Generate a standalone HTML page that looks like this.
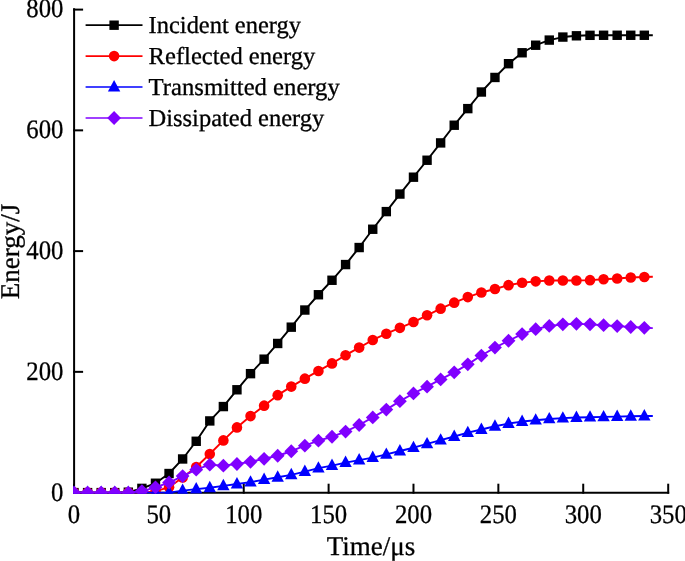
<!DOCTYPE html>
<html><head><meta charset="utf-8"><style>
html,body{margin:0;padding:0;background:#fff;}
body{width:685px;height:561px;overflow:hidden;}
svg{display:block;will-change:transform;text-rendering:geometricPrecision;font-family:"Liberation Serif",serif;}
text{stroke:#000;stroke-width:0.3px;}
</style></head><body>
<svg width="685" height="561" viewBox="0 0 685 561">
<defs><clipPath id="c"><rect x="73.1" y="0" width="612" height="493.7"/></clipPath></defs>
<line x1="74.1" y1="8.3" x2="74.1" y2="493.7" stroke="#000" stroke-width="2"/><line x1="73.1" y1="492.7" x2="669.2" y2="492.7" stroke="#000" stroke-width="2"/><line x1="73.1" y1="492.60" x2="83.1" y2="492.60" stroke="#000" stroke-width="2"/><line x1="73.1" y1="371.85" x2="83.1" y2="371.85" stroke="#000" stroke-width="2"/><line x1="73.1" y1="251.10" x2="83.1" y2="251.10" stroke="#000" stroke-width="2"/><line x1="73.1" y1="130.35" x2="83.1" y2="130.35" stroke="#000" stroke-width="2"/><line x1="73.1" y1="9.60" x2="83.1" y2="9.60" stroke="#000" stroke-width="2"/><line x1="74.00" y1="493.7" x2="74.00" y2="483.7" stroke="#000" stroke-width="2"/><line x1="158.87" y1="493.7" x2="158.87" y2="483.7" stroke="#000" stroke-width="2"/><line x1="243.74" y1="493.7" x2="243.74" y2="483.7" stroke="#000" stroke-width="2"/><line x1="328.61" y1="493.7" x2="328.61" y2="483.7" stroke="#000" stroke-width="2"/><line x1="413.48" y1="493.7" x2="413.48" y2="483.7" stroke="#000" stroke-width="2"/><line x1="498.35" y1="493.7" x2="498.35" y2="483.7" stroke="#000" stroke-width="2"/><line x1="583.22" y1="493.7" x2="583.22" y2="483.7" stroke="#000" stroke-width="2"/><line x1="668.20" y1="493.7" x2="668.20" y2="483.7" stroke="#000" stroke-width="2"/>
<g clip-path="url(#c)"><polyline points="74.00,492.60 87.58,492.60 101.16,492.60 114.74,492.60 128.32,492.18 141.90,488.37 155.48,483.24 169.05,473.52 182.63,458.97 196.21,441.28 209.79,420.93 223.37,406.57 236.95,389.78 250.53,373.66 264.11,359.17 277.69,343.47 291.27,327.17 304.85,310.03 318.43,294.75 332.00,280.26 345.58,264.56 359.16,247.54 372.74,229.24 386.32,211.61 399.90,194.05 413.48,177.20 427.06,160.24 440.64,142.91 454.22,125.22 467.80,108.62 481.38,92.01 494.96,77.46 508.53,63.70 522.11,52.77 535.69,45.22 549.27,40.09 562.85,37.07 576.43,35.80 590.01,35.32 603.59,35.26 617.17,35.26 630.75,35.26 644.33,35.26 652.81,35.26" fill="none" stroke="#000" stroke-width="1.9" stroke-linejoin="round"/><g fill="#000"><rect x="69.30" y="487.90" width="9.40" height="9.40"/><rect x="82.88" y="487.90" width="9.40" height="9.40"/><rect x="96.46" y="487.90" width="9.40" height="9.40"/><rect x="110.04" y="487.90" width="9.40" height="9.40"/><rect x="123.62" y="487.48" width="9.40" height="9.40"/><rect x="137.20" y="483.67" width="9.40" height="9.40"/><rect x="150.78" y="478.54" width="9.40" height="9.40"/><rect x="164.35" y="468.82" width="9.40" height="9.40"/><rect x="177.93" y="454.27" width="9.40" height="9.40"/><rect x="191.51" y="436.58" width="9.40" height="9.40"/><rect x="205.09" y="416.23" width="9.40" height="9.40"/><rect x="218.67" y="401.87" width="9.40" height="9.40"/><rect x="232.25" y="385.08" width="9.40" height="9.40"/><rect x="245.83" y="368.96" width="9.40" height="9.40"/><rect x="259.41" y="354.47" width="9.40" height="9.40"/><rect x="272.99" y="338.77" width="9.40" height="9.40"/><rect x="286.57" y="322.47" width="9.40" height="9.40"/><rect x="300.15" y="305.33" width="9.40" height="9.40"/><rect x="313.73" y="290.05" width="9.40" height="9.40"/><rect x="327.30" y="275.56" width="9.40" height="9.40"/><rect x="340.88" y="259.86" width="9.40" height="9.40"/><rect x="354.46" y="242.84" width="9.40" height="9.40"/><rect x="368.04" y="224.54" width="9.40" height="9.40"/><rect x="381.62" y="206.91" width="9.40" height="9.40"/><rect x="395.20" y="189.35" width="9.40" height="9.40"/><rect x="408.78" y="172.50" width="9.40" height="9.40"/><rect x="422.36" y="155.54" width="9.40" height="9.40"/><rect x="435.94" y="138.21" width="9.40" height="9.40"/><rect x="449.52" y="120.52" width="9.40" height="9.40"/><rect x="463.10" y="103.92" width="9.40" height="9.40"/><rect x="476.68" y="87.31" width="9.40" height="9.40"/><rect x="490.26" y="72.76" width="9.40" height="9.40"/><rect x="503.83" y="59.00" width="9.40" height="9.40"/><rect x="517.41" y="48.07" width="9.40" height="9.40"/><rect x="530.99" y="40.52" width="9.40" height="9.40"/><rect x="544.57" y="35.39" width="9.40" height="9.40"/><rect x="558.15" y="32.37" width="9.40" height="9.40"/><rect x="571.73" y="31.10" width="9.40" height="9.40"/><rect x="585.31" y="30.62" width="9.40" height="9.40"/><rect x="598.89" y="30.56" width="9.40" height="9.40"/><rect x="612.47" y="30.56" width="9.40" height="9.40"/><rect x="626.05" y="30.56" width="9.40" height="9.40"/><rect x="639.63" y="30.56" width="9.40" height="9.40"/></g><polyline points="74.00,492.60 87.58,492.60 101.16,492.60 114.74,492.60 128.32,492.60 141.90,492.60 155.48,491.39 169.05,487.17 182.63,477.51 196.21,466.94 209.79,453.96 223.37,440.38 236.95,427.40 250.53,416.10 264.11,405.66 277.69,395.15 291.27,386.58 304.85,378.67 318.43,370.94 332.00,363.40 345.58,355.19 359.16,347.58 372.74,339.97 386.32,333.69 399.90,327.84 413.48,322.04 427.06,315.28 440.64,308.64 454.22,302.66 467.80,297.11 481.38,292.46 494.96,288.96 508.53,285.15 522.11,282.74 535.69,281.35 549.27,280.44 562.85,280.44 576.43,280.44 590.01,280.14 603.59,279.23 617.17,278.45 630.75,277.54 644.33,276.94 652.81,276.76" fill="none" stroke="#f00" stroke-width="1.9" stroke-linejoin="round"/><g fill="#f00"><circle cx="74.00" cy="492.60" r="5.3"/><circle cx="87.58" cy="492.60" r="5.3"/><circle cx="101.16" cy="492.60" r="5.3"/><circle cx="114.74" cy="492.60" r="5.3"/><circle cx="128.32" cy="492.60" r="5.3"/><circle cx="141.90" cy="492.60" r="5.3"/><circle cx="155.48" cy="491.39" r="5.3"/><circle cx="169.05" cy="487.17" r="5.3"/><circle cx="182.63" cy="477.51" r="5.3"/><circle cx="196.21" cy="466.94" r="5.3"/><circle cx="209.79" cy="453.96" r="5.3"/><circle cx="223.37" cy="440.38" r="5.3"/><circle cx="236.95" cy="427.40" r="5.3"/><circle cx="250.53" cy="416.10" r="5.3"/><circle cx="264.11" cy="405.66" r="5.3"/><circle cx="277.69" cy="395.15" r="5.3"/><circle cx="291.27" cy="386.58" r="5.3"/><circle cx="304.85" cy="378.67" r="5.3"/><circle cx="318.43" cy="370.94" r="5.3"/><circle cx="332.00" cy="363.40" r="5.3"/><circle cx="345.58" cy="355.19" r="5.3"/><circle cx="359.16" cy="347.58" r="5.3"/><circle cx="372.74" cy="339.97" r="5.3"/><circle cx="386.32" cy="333.69" r="5.3"/><circle cx="399.90" cy="327.84" r="5.3"/><circle cx="413.48" cy="322.04" r="5.3"/><circle cx="427.06" cy="315.28" r="5.3"/><circle cx="440.64" cy="308.64" r="5.3"/><circle cx="454.22" cy="302.66" r="5.3"/><circle cx="467.80" cy="297.11" r="5.3"/><circle cx="481.38" cy="292.46" r="5.3"/><circle cx="494.96" cy="288.96" r="5.3"/><circle cx="508.53" cy="285.15" r="5.3"/><circle cx="522.11" cy="282.74" r="5.3"/><circle cx="535.69" cy="281.35" r="5.3"/><circle cx="549.27" cy="280.44" r="5.3"/><circle cx="562.85" cy="280.44" r="5.3"/><circle cx="576.43" cy="280.44" r="5.3"/><circle cx="590.01" cy="280.14" r="5.3"/><circle cx="603.59" cy="279.23" r="5.3"/><circle cx="617.17" cy="278.45" r="5.3"/><circle cx="630.75" cy="277.54" r="5.3"/><circle cx="644.33" cy="276.94" r="5.3"/></g><polyline points="74.00,492.60 87.58,492.60 101.16,492.60 114.74,492.60 128.32,492.60 141.90,492.60 155.48,492.60 169.05,492.60 182.63,490.58 196.21,489.07 209.79,487.80 223.37,485.87 236.95,484.00 250.53,482.13 264.11,479.59 277.69,477.30 291.27,474.82 304.85,471.56 318.43,468.18 332.00,465.58 345.58,462.57 359.16,460.09 372.74,457.61 386.32,454.41 399.90,451.03 413.48,447.71 427.06,443.91 440.64,440.17 454.22,436.48 467.80,432.68 481.38,429.48 494.96,426.28 508.53,423.56 522.11,421.57 535.69,420.18 549.27,418.97 562.85,418.13 576.43,417.53 590.01,417.22 603.59,416.92 617.17,416.62 630.75,416.32 644.33,416.02 652.81,416.02" fill="none" stroke="#00f" stroke-width="1.9" stroke-linejoin="round"/><g fill="#00f"><path d="M74.00,485.60L80.20,497.00L67.80,497.00Z"/><path d="M87.58,485.60L93.78,497.00L81.38,497.00Z"/><path d="M101.16,485.60L107.36,497.00L94.96,497.00Z"/><path d="M114.74,485.60L120.94,497.00L108.54,497.00Z"/><path d="M128.32,485.60L134.52,497.00L122.12,497.00Z"/><path d="M141.90,485.60L148.10,497.00L135.70,497.00Z"/><path d="M155.48,485.60L161.68,497.00L149.28,497.00Z"/><path d="M169.05,485.60L175.25,497.00L162.85,497.00Z"/><path d="M182.63,483.58L188.83,494.98L176.43,494.98Z"/><path d="M196.21,482.07L202.41,493.47L190.01,493.47Z"/><path d="M209.79,480.80L215.99,492.20L203.59,492.20Z"/><path d="M223.37,478.87L229.57,490.27L217.17,490.27Z"/><path d="M236.95,477.00L243.15,488.40L230.75,488.40Z"/><path d="M250.53,475.13L256.73,486.53L244.33,486.53Z"/><path d="M264.11,472.59L270.31,483.99L257.91,483.99Z"/><path d="M277.69,470.30L283.89,481.70L271.49,481.70Z"/><path d="M291.27,467.82L297.47,479.22L285.07,479.22Z"/><path d="M304.85,464.56L311.05,475.96L298.65,475.96Z"/><path d="M318.43,461.18L324.63,472.58L312.23,472.58Z"/><path d="M332.00,458.58L338.20,469.98L325.80,469.98Z"/><path d="M345.58,455.57L351.78,466.97L339.38,466.97Z"/><path d="M359.16,453.09L365.36,464.49L352.96,464.49Z"/><path d="M372.74,450.61L378.94,462.01L366.54,462.01Z"/><path d="M386.32,447.41L392.52,458.81L380.12,458.81Z"/><path d="M399.90,444.03L406.10,455.43L393.70,455.43Z"/><path d="M413.48,440.71L419.68,452.11L407.28,452.11Z"/><path d="M427.06,436.91L433.26,448.31L420.86,448.31Z"/><path d="M440.64,433.17L446.84,444.57L434.44,444.57Z"/><path d="M454.22,429.48L460.42,440.88L448.02,440.88Z"/><path d="M467.80,425.68L474.00,437.08L461.60,437.08Z"/><path d="M481.38,422.48L487.58,433.88L475.18,433.88Z"/><path d="M494.96,419.28L501.16,430.68L488.76,430.68Z"/><path d="M508.53,416.56L514.73,427.96L502.33,427.96Z"/><path d="M522.11,414.57L528.31,425.97L515.91,425.97Z"/><path d="M535.69,413.18L541.89,424.58L529.49,424.58Z"/><path d="M549.27,411.97L555.47,423.37L543.07,423.37Z"/><path d="M562.85,411.13L569.05,422.53L556.65,422.53Z"/><path d="M576.43,410.53L582.63,421.93L570.23,421.93Z"/><path d="M590.01,410.22L596.21,421.62L583.81,421.62Z"/><path d="M603.59,409.92L609.79,421.32L597.39,421.32Z"/><path d="M617.17,409.62L623.37,421.02L610.97,421.02Z"/><path d="M630.75,409.32L636.95,420.72L624.55,420.72Z"/><path d="M644.33,409.02L650.53,420.42L638.13,420.42Z"/></g><polyline points="74.00,492.60 87.58,492.60 101.16,492.60 114.74,492.60 128.32,492.60 141.90,491.09 155.48,487.29 169.05,482.52 182.63,476.12 196.21,469.66 209.79,464.71 223.37,465.67 236.95,463.98 250.53,461.87 264.11,458.79 277.69,455.77 291.27,451.24 304.85,445.63 318.43,440.68 332.00,436.75 345.58,431.62 359.16,424.98 372.74,417.43 386.32,409.58 399.90,401.13 413.48,393.46 427.06,386.64 440.64,379.40 454.22,372.33 467.80,364.36 481.38,355.55 494.96,347.58 508.53,340.76 522.11,334.12 535.69,329.16 549.27,325.97 562.85,324.33 576.43,323.85 590.01,324.33 603.59,325.18 617.17,326.09 630.75,326.99 644.33,327.78 652.81,328.08" fill="none" stroke="#8000ff" stroke-width="1.9" stroke-linejoin="round"/><g fill="#8000ff"><path d="M74.00,485.70L80.90,492.60L74.00,499.50L67.10,492.60Z"/><path d="M87.58,485.70L94.48,492.60L87.58,499.50L80.68,492.60Z"/><path d="M101.16,485.70L108.06,492.60L101.16,499.50L94.26,492.60Z"/><path d="M114.74,485.70L121.64,492.60L114.74,499.50L107.84,492.60Z"/><path d="M128.32,485.70L135.22,492.60L128.32,499.50L121.42,492.60Z"/><path d="M141.90,484.19L148.80,491.09L141.90,497.99L135.00,491.09Z"/><path d="M155.48,480.39L162.38,487.29L155.48,494.19L148.58,487.29Z"/><path d="M169.05,475.62L175.95,482.52L169.05,489.42L162.15,482.52Z"/><path d="M182.63,469.22L189.53,476.12L182.63,483.02L175.73,476.12Z"/><path d="M196.21,462.76L203.11,469.66L196.21,476.56L189.31,469.66Z"/><path d="M209.79,457.81L216.69,464.71L209.79,471.61L202.89,464.71Z"/><path d="M223.37,458.77L230.27,465.67L223.37,472.57L216.47,465.67Z"/><path d="M236.95,457.08L243.85,463.98L236.95,470.88L230.05,463.98Z"/><path d="M250.53,454.97L257.43,461.87L250.53,468.77L243.63,461.87Z"/><path d="M264.11,451.89L271.01,458.79L264.11,465.69L257.21,458.79Z"/><path d="M277.69,448.87L284.59,455.77L277.69,462.67L270.79,455.77Z"/><path d="M291.27,444.34L298.17,451.24L291.27,458.14L284.37,451.24Z"/><path d="M304.85,438.73L311.75,445.63L304.85,452.53L297.95,445.63Z"/><path d="M318.43,433.78L325.33,440.68L318.43,447.58L311.53,440.68Z"/><path d="M332.00,429.85L338.90,436.75L332.00,443.65L325.10,436.75Z"/><path d="M345.58,424.72L352.48,431.62L345.58,438.52L338.68,431.62Z"/><path d="M359.16,418.08L366.06,424.98L359.16,431.88L352.26,424.98Z"/><path d="M372.74,410.53L379.64,417.43L372.74,424.33L365.84,417.43Z"/><path d="M386.32,402.68L393.22,409.58L386.32,416.48L379.42,409.58Z"/><path d="M399.90,394.23L406.80,401.13L399.90,408.03L393.00,401.13Z"/><path d="M413.48,386.56L420.38,393.46L413.48,400.36L406.58,393.46Z"/><path d="M427.06,379.74L433.96,386.64L427.06,393.54L420.16,386.64Z"/><path d="M440.64,372.50L447.54,379.40L440.64,386.30L433.74,379.40Z"/><path d="M454.22,365.43L461.12,372.33L454.22,379.23L447.32,372.33Z"/><path d="M467.80,357.46L474.70,364.36L467.80,371.26L460.90,364.36Z"/><path d="M481.38,348.65L488.28,355.55L481.38,362.45L474.48,355.55Z"/><path d="M494.96,340.68L501.86,347.58L494.96,354.48L488.06,347.58Z"/><path d="M508.53,333.86L515.43,340.76L508.53,347.66L501.63,340.76Z"/><path d="M522.11,327.22L529.01,334.12L522.11,341.02L515.21,334.12Z"/><path d="M535.69,322.26L542.59,329.16L535.69,336.06L528.79,329.16Z"/><path d="M549.27,319.07L556.17,325.97L549.27,332.87L542.37,325.97Z"/><path d="M562.85,317.43L569.75,324.33L562.85,331.23L555.95,324.33Z"/><path d="M576.43,316.95L583.33,323.85L576.43,330.75L569.53,323.85Z"/><path d="M590.01,317.43L596.91,324.33L590.01,331.23L583.11,324.33Z"/><path d="M603.59,318.28L610.49,325.18L603.59,332.08L596.69,325.18Z"/><path d="M617.17,319.19L624.07,326.09L617.17,332.99L610.27,326.09Z"/><path d="M630.75,320.09L637.65,326.99L630.75,333.89L623.85,326.99Z"/><path d="M644.33,320.88L651.23,327.78L644.33,334.68L637.43,327.78Z"/></g></g>
<g font-size="26.6" fill="#000"><text x="63.4" y="501.10" text-anchor="end" textLength="12.38" lengthAdjust="spacingAndGlyphs">0</text><text x="63.4" y="380.35" text-anchor="end" textLength="37.13" lengthAdjust="spacingAndGlyphs">200</text><text x="63.4" y="258.80" text-anchor="end" textLength="37.13" lengthAdjust="spacingAndGlyphs">400</text><text x="63.4" y="138.25" text-anchor="end" textLength="37.13" lengthAdjust="spacingAndGlyphs">600</text><text x="63.4" y="17.10" text-anchor="end" textLength="37.13" lengthAdjust="spacingAndGlyphs">800</text><text x="74.00" y="522.6" text-anchor="middle" textLength="12.38" lengthAdjust="spacingAndGlyphs">0</text><text x="158.87" y="522.6" text-anchor="middle" textLength="24.75" lengthAdjust="spacingAndGlyphs">50</text><text x="243.74" y="522.6" text-anchor="middle" textLength="37.13" lengthAdjust="spacingAndGlyphs">100</text><text x="328.61" y="522.6" text-anchor="middle" textLength="37.13" lengthAdjust="spacingAndGlyphs">150</text><text x="413.48" y="522.6" text-anchor="middle" textLength="37.13" lengthAdjust="spacingAndGlyphs">200</text><text x="498.35" y="522.6" text-anchor="middle" textLength="37.13" lengthAdjust="spacingAndGlyphs">250</text><text x="583.22" y="522.6" text-anchor="middle" textLength="37.13" lengthAdjust="spacingAndGlyphs">300</text><text x="668.20" y="522.6" text-anchor="middle" textLength="37.13" lengthAdjust="spacingAndGlyphs">350</text></g>
<g fill="#000"><text x="371" y="554.5" text-anchor="middle" font-size="27">Time/μs</text><text transform="translate(19.0,251.5) rotate(-90)" text-anchor="middle" font-size="27">Energy/J</text></g>
<g><line x1="85.6" y1="25.2" x2="142.5" y2="25.2" stroke="#000" stroke-width="1.7"/><rect x="109.40" y="20.50" width="9.40" height="9.40" fill="#000"/><text x="148.6" y="33.10" font-size="24.4" textLength="152.4" lengthAdjust="spacingAndGlyphs">Incident energy</text><line x1="85.6" y1="56.1" x2="142.5" y2="56.1" stroke="#f00" stroke-width="1.7"/><circle cx="114.1" cy="56.1" r="5.3" fill="#f00"/><text x="148.6" y="64.00" font-size="24.4" textLength="166.7" lengthAdjust="spacingAndGlyphs">Reflected energy</text><line x1="85.6" y1="87.0" x2="142.5" y2="87.0" stroke="#00f" stroke-width="1.7"/><path d="M114.10,80.00L120.30,91.40L107.90,91.40Z" fill="#00f"/><text x="148.6" y="94.90" font-size="24.4" textLength="191.2" lengthAdjust="spacingAndGlyphs">Transmitted energy</text><line x1="85.6" y1="118.0" x2="142.5" y2="118.0" stroke="#8000ff" stroke-width="1.7"/><path d="M114.10,111.10L121.00,118.00L114.10,124.90L107.20,118.00Z" fill="#8000ff"/><text x="148.6" y="125.90" font-size="24.4" textLength="175.6" lengthAdjust="spacingAndGlyphs">Dissipated energy</text></g>
</svg>
</body></html>
